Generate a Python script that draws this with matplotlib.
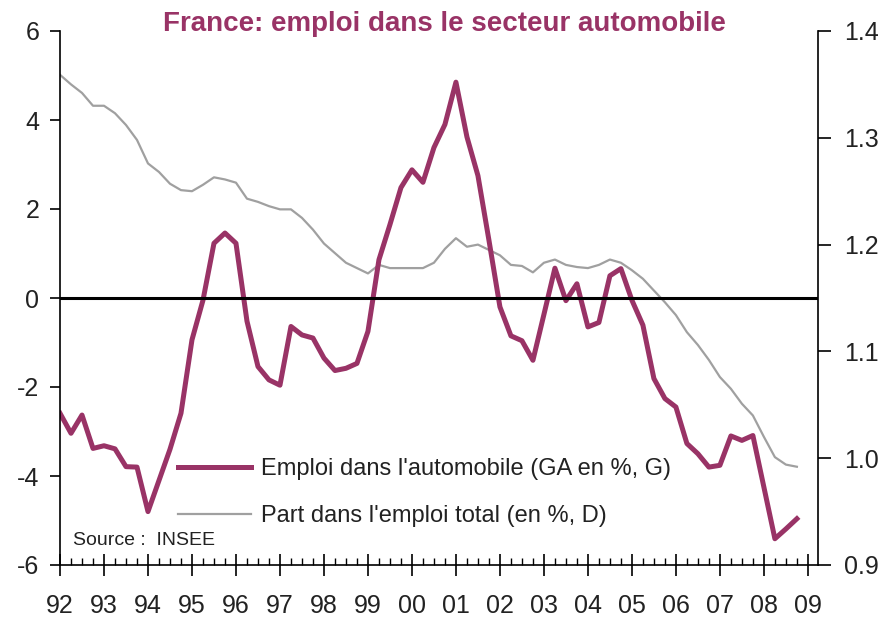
import numpy as np
import matplotlib
matplotlib.use("Agg")
from matplotlib import pyplot as plt
from matplotlib.lines import Line2D
from matplotlib.ticker import FixedLocator, FormatStrFormatter

plt.rcParams['font.family'] = ['Liberation Sans', 'DejaVu Sans']
plt.rcParams['axes.unicode_minus'] = False

# trimestres 1992T1 .. 2008T4
trimestres = 1992 + np.arange(68) / 4

# emploi dans l'automobile, glissement annuel en % (axe gauche)
emploi_auto = [-2.59, -3.04, -2.63, -3.38,
               -3.32, -3.39, -3.79, -3.80,
               -4.80, -4.10, -3.40, -2.59,
               -0.94, -0.05, 1.23, 1.46,
               1.23, -0.52, -1.54, -1.84,
               -1.96, -0.64, -0.83, -0.90,
               -1.35, -1.63, -1.58, -1.47,
               -0.75, 0.86, 1.65, 2.48,
               2.88, 2.60, 3.38, 3.90,
               4.85, 3.62, 2.75, 1.30,
               -0.20, -0.85, -0.96, -1.40,
               -0.37, 0.67, -0.06, 0.32,
               -0.65, -0.55, 0.50, 0.66,
               -0.05, -0.61, -1.81, -2.26,
               -2.45, -3.27, -3.50, -3.80,
               -3.76, -3.10, -3.20, -3.09,
               -4.25, -5.41, -5.19, -4.96]

# part dans l'emploi total, en % (axe droit)
part_emploi = [1.359, 1.350, 1.342, 1.330,
               1.330, 1.323, 1.312, 1.298,
               1.276, 1.268, 1.257, 1.251,
               1.250, 1.256, 1.263, 1.261,
               1.258, 1.243, 1.240, 1.236,
               1.233, 1.233, 1.225, 1.214,
               1.201, 1.192, 1.183, 1.178,
               1.173, 1.181, 1.178, 1.178,
               1.178, 1.178, 1.183, 1.196,
               1.206, 1.198, 1.200, 1.195,
               1.190, 1.181, 1.180, 1.174,
               1.183, 1.186, 1.181, 1.179,
               1.178, 1.181, 1.186, 1.183,
               1.176, 1.168, 1.157, 1.146,
               1.134, 1.118, 1.106, 1.092,
               1.076, 1.065, 1.051, 1.040,
               1.020, 1.001, 0.994, 0.992]

annees = list(range(1992, 2010))
annee_labels = ["%02d" % (a % 100) for a in annees]

violet = "#993366"
gris = "#A0A0A0"
texte = "#222222"

fig = plt.figure(figsize=(8.84, 6.19), dpi=100)
ax = fig.add_axes([60 / 884, 1 - 565 / 619, 758 / 884, 534 / 619])
ax2 = ax.twinx()

# purple line above the grey one
ax.set_zorder(ax2.get_zorder() + 1)
ax.patch.set_visible(False)

ax2.plot(trimestres, part_emploi, color=gris, lw=1.6)
ax.plot(trimestres, emploi_auto, color=violet, lw=3.6, solid_joinstyle='round')
ax.axhline(0, color='black', lw=2.2)

ax.set_xlim(1992, 2009.23)
ax.set_ylim(-6, 6)
ax2.set_ylim(0.9, 1.4)

ax.set_xticks(annees)
ax.set_xticklabels(annee_labels)
ax.xaxis.set_minor_locator(FixedLocator(trimestres))
ax.set_yticks([-6, -4, -2, 0, 2, 4, 6])
ax2.set_yticks([0.9, 1.0, 1.1, 1.2, 1.3, 1.4])
ax2.yaxis.set_major_formatter(FormatStrFormatter('%.1f'))

ax.tick_params(axis='x', which='major', direction='inout', length=16, width=1.2,
               pad=13, labelsize=18, labelcolor=texte)
ax.tick_params(axis='x', which='minor', direction='in', length=5, width=1.0)
ax.tick_params(axis='y', direction='out', length=7, width=1.2, pad=8,
               labelsize=18, labelcolor=texte)
ax2.tick_params(axis='y', direction='out', length=9, width=1.2, pad=10,
                labelsize=18, labelcolor=texte)

for s in ['top', 'right']:
    ax.spines[s].set_visible(False)
for s in ['top', 'left', 'bottom']:
    ax2.spines[s].set_visible(False)
for sp in [ax.spines['left'], ax.spines['bottom'], ax2.spines['right']]:
    sp.set_linewidth(1.2)
    sp.set_color('black')

handles = [Line2D([], [], color=violet, lw=3.6),
           Line2D([], [], color=gris, lw=1.6)]
labels = ["Emploi dans l'automobile (GA en %, G)",
          "Part dans l'emploi total (en %, D)"]
ax.legend(handles, labels, loc='upper left', bbox_to_anchor=(178 / 884, 1 - 458 / 619),
          bbox_transform=fig.transFigure, frameon=False, fontsize=17,
          handlelength=3.1, handletextpad=0.4, labelspacing=1.05, borderpad=0,
          borderaxespad=0, labelcolor=texte)

ax.text(0.017, 0.045, "Source :  INSEE", transform=ax.transAxes, fontsize=14,
        color=texte, va='center', ha='left')

fig.text(0.503, 0.962, "France: emploi dans le secteur automobile", color=violet,
         fontsize=20, fontweight='bold', ha='center', va='center')

fig.savefig("out.png", dpi=100)
